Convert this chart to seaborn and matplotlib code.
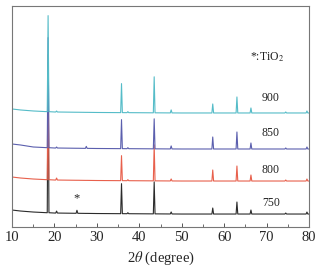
import numpy as np
import matplotlib
matplotlib.use("Agg")
import matplotlib.pyplot as plt
import seaborn as sns

# --- Data ---
peak_pos = [18.5, 20.5, 25.3, 27.5, 35.8, 37.3, 43.5, 47.5, 57.3, 63.0, 66.3, 74.5, 79.5]

h_750 = [150, 2, 3, 0, 30, 1, 32, 2, 6, 12, 4, 1, 2]
h_800 = [125, 2, 0, 0, 25, 1, 36, 2, 11, 15, 6, 1, 2]
h_850 = [110, 1, 0, 2, 29, 1, 30, 3, 12, 17, 6, 1, 2]
h_900 = [96, 1, 0, 0, 29, 1, 36, 3, 9, 16, 5, 1, 2]

base_x = [10, 12, 15, 20, 30, 50, 80]
base_750 = [17, 16, 15, 14, 13.5, 13, 13]
base_800 = [50, 49, 48, 47, 46.5, 46, 46]
base_850 = [83, 82, 80, 79, 78.5, 78, 78]
base_900 = [118, 117, 116, 115, 114.5, 114, 114]

labels = ["750", "800", "850", "900"]
colors = ["#2b2b2b", "#e8604c", "#5b5fae", "#55bcc8"]
label_y = [24, 57, 94, 129]

star_x, star_y = 25.3, 29


def pattern(heights, base):
    # baseline vertices plus a sharp triangle for every peak
    xs = list(base_x)
    ys = list(base)
    for p, h in zip(peak_pos, heights):
        b = np.interp(p, base_x, base)
        xs += [p - 0.2, p, p + 0.2]
        ys += [b, b + h, b]
    order = np.argsort(xs, kind="stable")
    return np.array(xs)[order], np.array(ys)[order]


sns.set_theme(style="ticks")
plt.rcParams['font.family'] = ['Liberation Serif', 'DejaVu Serif']
plt.rcParams['mathtext.fontset'] = 'stix'

fig = plt.figure(figsize=(3.25, 2.69), dpi=100)
ax = fig.add_axes([0.037, 0.156, 0.914, 0.822])

for lab, col, hts, base in zip(labels, colors, [h_750, h_800, h_850, h_900],
                               [base_750, base_800, base_850, base_900]):
    x, y = pattern(hts, base)
    sns.lineplot(x=x, y=y, ax=ax, color=col, linewidth=0.8, sort=False,
                 estimator=None)

for lab, ly in zip(labels, label_y):
    ax.text(71, ly, lab, fontsize=8.5, ha="center", va="center", color="#222222")

ax.text(star_x, star_y, "*", fontsize=9, ha="center", va="center", color="#222222")
ax.text(70, 170, "*:TiO$_2$", fontsize=8.5, ha="center", va="center", color="#222222")

ax.set_xlim(10, 80)
ax.set_ylim(0, 221)
ax.set_xticks(range(10, 81, 10))
ax.set_xticks(range(15, 80, 10), minor=True)
ax.set_yticks([])
ax.tick_params(axis="x", which="major", direction="in", length=3, width=0.7,
               labelsize=10.5, pad=3, color="#555555")
ax.tick_params(axis="x", which="minor", direction="in", length=2, width=0.6,
               color="#555555")
for s in ax.spines.values():
    s.set_color("#777777")
    s.set_linewidth(0.8)

ax.set_xlabel(r"2$\theta$ (degree)", fontsize=10.5, labelpad=4)
ax.set_ylabel("")

fig.savefig("out.png", dpi=100)
